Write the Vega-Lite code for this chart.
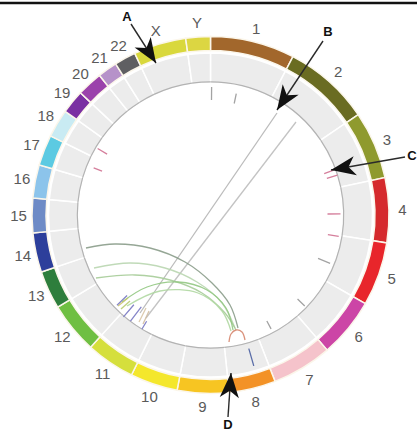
{
  "$schema": "https://vega.github.io/schema/vega-lite/v6.json",
  "width": 413,
  "height": 430,
  "padding": {"left": 4, "top": 0, "right": 0, "bottom": 2},
  "autosize": {"type": "none"},
  "background": "white",
  "config": {"view": {"stroke": null}},
  "datasets": {
    "chroms": [
      {"chr": "1", "start": 0, "end": 27.5, "mid": 13.75},
      {"chr": "2", "start": 27.5, "end": 55.8, "mid": 41.65},
      {"chr": "3", "start": 55.8, "end": 77.9, "mid": 66.85},
      {"chr": "4", "start": 77.9, "end": 99, "mid": 88.45},
      {"chr": "5", "start": 99, "end": 119.8, "mid": 109.4},
      {"chr": "6", "start": 119.8, "end": 139.2, "mid": 129.5},
      {"chr": "7", "start": 139.2, "end": 158.8, "mid": 149},
      {"chr": "8", "start": 158.8, "end": 174, "mid": 166.4},
      {"chr": "9", "start": 174, "end": 190.8, "mid": 182.4},
      {"chr": "10", "start": 190.8, "end": 206.3, "mid": 198.55},
      {"chr": "11", "start": 206.3, "end": 222.2, "mid": 214.25},
      {"chr": "12", "start": 222.2, "end": 238.9, "mid": 230.55},
      {"chr": "13", "start": 238.9, "end": 251.4, "mid": 245.15},
      {"chr": "14", "start": 251.4, "end": 264.2, "mid": 257.8},
      {"chr": "15", "start": 264.2, "end": 275.5, "mid": 269.85},
      {"chr": "16", "start": 275.5, "end": 286.3, "mid": 280.9},
      {"chr": "17", "start": 286.3, "end": 296.3, "mid": 291.3},
      {"chr": "18", "start": 296.3, "end": 305.5, "mid": 300.9},
      {"chr": "19", "start": 305.5, "end": 313.2, "mid": 309.35},
      {"chr": "20", "start": 313.2, "end": 321.5, "mid": 317.35},
      {"chr": "21", "start": 321.5, "end": 327.9, "mid": 324.7},
      {"chr": "22", "start": 327.9, "end": 334.9, "mid": 331.4},
      {"chr": "X", "start": 334.9, "end": 352, "mid": 343.45},
      {"chr": "Y", "start": 352, "end": 360, "mid": 356}
    ],
    "ticks": [
      {"a": 0.5, "r0": 115, "r1": 128, "k": "g"},
      {"a": 12, "r0": 114, "r1": 124, "k": "g"},
      {"a": 70, "r0": 121, "r1": 131, "k": "p"},
      {"a": 72.5, "r0": 122, "r1": 133, "k": "p"},
      {"a": 89.5, "r0": 117, "r1": 130, "k": "p"},
      {"a": 99.5, "r0": 119, "r1": 130, "k": "p"},
      {"a": 112, "r0": 116, "r1": 129, "k": "g"},
      {"a": 134, "r0": 121, "r1": 131, "k": "g"},
      {"a": 152, "r0": 120, "r1": 129, "k": "g"},
      {"a": 164, "r0": 139, "r1": 157, "k": "n"},
      {"a": 211, "r0": 124, "r1": 133, "k": "b"},
      {"a": 217, "r0": 115, "r1": 133, "k": "b"},
      {"a": 220.5, "r0": 118, "r1": 134, "k": "b"},
      {"a": 226, "r0": 116, "r1": 130, "k": "b"},
      {"a": 292, "r0": 117, "r1": 126, "k": "p"},
      {"a": 300.5, "r0": 120, "r1": 131, "k": "p"}
    ],
    "links": [
      {"id": "L1", "i": 0, "x": 66.5, "y": 102},
      {"id": "L1", "i": 1, "x": -70.5, "y": -98},
      {"id": "L2", "i": 0, "x": 85.5, "y": 93},
      {"id": "L2", "i": 1, "x": -64.5, "y": -103},
      {"id": "G1", "i": 0, "x": -124.5, "y": -33},
      {"id": "G1", "i": 1, "x": -95.5, "y": -29},
      {"id": "G1", "i": 2, "x": -60.5, "y": -33},
      {"id": "G1", "i": 3, "x": -25.5, "y": -47},
      {"id": "G1", "i": 4, "x": 1.5, "y": -68},
      {"id": "G1", "i": 5, "x": 19.5, "y": -90},
      {"id": "G1", "i": 6, "x": 27.5, "y": -113},
      {"id": "G2", "i": 0, "x": -116.5, "y": -53},
      {"id": "G2", "i": 1, "x": -80.5, "y": -48},
      {"id": "G2", "i": 2, "x": -45.5, "y": -53},
      {"id": "G2", "i": 3, "x": -13.5, "y": -67},
      {"id": "G2", "i": 4, "x": 11.5, "y": -88},
      {"id": "G2", "i": 5, "x": 24.5, "y": -113},
      {"id": "G3", "i": 0, "x": -114.5, "y": -63},
      {"id": "G3", "i": 1, "x": -75.5, "y": -60},
      {"id": "G3", "i": 2, "x": -40.5, "y": -65},
      {"id": "G3", "i": 3, "x": -8.5, "y": -78},
      {"id": "G3", "i": 4, "x": 14.5, "y": -98},
      {"id": "G3", "i": 5, "x": 25.5, "y": -115},
      {"id": "G4", "i": 0, "x": -88.5, "y": -87},
      {"id": "G4", "i": 1, "x": -63.5, "y": -72},
      {"id": "G4", "i": 2, "x": -32.5, "y": -67},
      {"id": "G4", "i": 3, "x": -3.5, "y": -75},
      {"id": "G4", "i": 4, "x": 15.5, "y": -93},
      {"id": "G4", "i": 5, "x": 22.5, "y": -115},
      {"id": "G5", "i": 0, "x": -83.5, "y": -91},
      {"id": "G5", "i": 1, "x": -50.5, "y": -76},
      {"id": "G5", "i": 2, "x": -12.5, "y": -78},
      {"id": "G5", "i": 3, "x": 11.5, "y": -96},
      {"id": "G5", "i": 4, "x": 20.5, "y": -116},
      {"id": "R1", "i": 0, "x": 18.5, "y": -127},
      {"id": "R1", "i": 1, "x": 20.5, "y": -119},
      {"id": "R1", "i": 2, "x": 25.5, "y": -115},
      {"id": "R1", "i": 3, "x": 31.5, "y": -117},
      {"id": "R1", "i": 4, "x": 34.5, "y": -125},
      {"id": "T1", "i": 0, "x": -92.5, "y": -91},
      {"id": "T1", "i": 1, "x": -82.5, "y": -83},
      {"id": "T2", "i": 0, "x": -89.5, "y": -94},
      {"id": "T2", "i": 1, "x": -80.5, "y": -86},
      {"id": "T3", "i": 0, "x": -71.5, "y": -107},
      {"id": "T3", "i": 1, "x": -64.5, "y": -93},
      {"id": "T4", "i": 0, "x": -67.5, "y": -109},
      {"id": "T4", "i": 1, "x": -61.5, "y": -96}
    ],
    "arrows": [
      {"id": "A", "lx": -83.5, "ly": 198, "sx": -79.5, "sy": 191, "tx": -54.5, "ty": 152, "ang": 147.3},
      {"id": "B", "lx": 117.5, "ly": 183, "sx": 112.5, "sy": 174, "tx": 66.5, "ty": 105, "ang": 213.7},
      {"id": "C", "lx": 201.5, "ly": 59, "sx": 194.5, "sy": 58, "tx": 120.5, "ty": 45, "ang": 260},
      {"id": "D", "lx": 17.5, "ly": -210, "sx": 17.5, "sy": -202, "tx": 20.5, "ty": -158, "ang": 3.9}
    ]
  },
  "layer": [
    {
      "data": {"name": "chroms"},
      "mark": {"type": "arc", "radius": 162, "radius2": 132, "fill": "#ececec", "stroke": "#ffffff", "strokeWidth": 1.5},
      "encoding": {
        "theta": {"field": "start", "type": "quantitative", "stack": null, "scale": {"domain": [0, 360], "range": [0, 6.283185307]}},
        "theta2": {"field": "end"}
      }
    },
    {
      "data": {"name": "chroms"},
      "mark": {"type": "arc", "radius": 133.8, "radius2": 132.6, "fill": "#b3b3b3"},
      "encoding": {
        "theta": {"field": "start", "type": "quantitative", "stack": null, "scale": {"domain": [0, 360], "range": [0, 6.283185307]}},
        "theta2": {"field": "end"}
      }
    },
    {
      "data": {"name": "chroms"},
      "mark": {"type": "arc", "radius": 178.5, "radius2": 164.5, "stroke": "#fbf6ea", "strokeWidth": 1.5},
      "encoding": {
        "theta": {"field": "start", "type": "quantitative", "stack": null, "scale": {"domain": [0, 360], "range": [0, 6.283185307]}},
        "theta2": {"field": "end"},
        "color": {
          "field": "chr", "type": "nominal", "legend": null,
          "scale": {
            "domain": ["1","2","3","4","5","6","7","8","9","10","11","12","13","14","15","16","17","18","19","20","21","22","X","Y"],
            "range": ["#a2672c","#6a6c22","#8f9a2e","#d52a2c","#e8262b","#cc45a6","#f5c3cb","#f39226","#f7c522","#f4e72c","#d5df3c","#6fbf42","#2e7e3c","#2d3f9b","#6e8bc6","#8cc4eb","#5ccae2","#c9ebf3","#7a30a2","#9b42ab","#b692c9","#5f5f62","#d9d83c","#dcd642"]
          }
        }
      }
    },
    {
      "data": {"name": "ticks"},
      "mark": {"type": "arc", "filled": false, "strokeWidth": 1.3},
      "encoding": {
        "theta": {"field": "a", "type": "quantitative", "stack": null, "scale": {"domain": [0, 360], "range": [0, 6.283185307]}},
        "theta2": {"field": "a"},
        "radius": {"field": "r0", "type": "quantitative", "scale": {"type": "linear", "domain": [0, 200], "range": [0, 200], "zero": true, "nice": false}},
        "radius2": {"field": "r1"},
        "color": {"field": "k", "type": "nominal", "legend": null, "scale": {"domain": ["g","p","b","n"], "range": ["#a3a3a3","#d57f9c","#8585c8","#5b6ea8"]}}
      }
    },
    {
      "data": {"name": "links"},
      "mark": {"type": "line", "interpolate": "catmull-rom", "strokeWidth": 1.3, "opacity": 0.9},
      "encoding": {
        "x": {"field": "x", "type": "quantitative", "axis": null, "scale": {"domain": [-206.5, 206.5], "nice": false, "zero": false}},
        "y": {"field": "y", "type": "quantitative", "axis": null, "scale": {"domain": [-215, 215], "nice": false, "zero": false}},
        "detail": {"field": "id"},
        "order": {"field": "i", "type": "quantitative"},
        "color": {"field": "id", "type": "nominal", "legend": null, "scale": {
          "domain": ["L1","L2","G1","G2","G3","G4","G5","R1","T1","T2","T3","T4"],
          "range": ["#b4b4b4","#bdbdbd","#8a9c8a","#b9d6b0","#a6cc98","#92c882","#b0d8a2","#d6866e","#c9c46a","#b8cc70","#d8c4a4","#d0bca0"]
        }}
      }
    },
    {
      "data": {"name": "arrows"},
      "mark": {"type": "rule", "color": "#2a2a2a", "strokeWidth": 1.4},
      "encoding": {
        "x": {"field": "sx", "type": "quantitative", "axis": null, "scale": {"domain": [-206.5, 206.5], "nice": false, "zero": false}},
        "y": {"field": "sy", "type": "quantitative", "axis": null, "scale": {"domain": [-215, 215], "nice": false, "zero": false}},
        "x2": {"field": "tx"},
        "y2": {"field": "ty"}
      }
    },
    {
      "data": {"name": "arrows"},
      "mark": {"type": "point", "shape": "M0,0L-0.7,1.8L0,1.3L0.7,1.8Z", "filled": true, "color": "#111111", "opacity": 1},
      "encoding": {
        "x": {"field": "tx", "type": "quantitative", "axis": null, "scale": {"domain": [-206.5, 206.5], "nice": false, "zero": false}},
        "y": {"field": "ty", "type": "quantitative", "axis": null, "scale": {"domain": [-215, 215], "nice": false, "zero": false}},
        "angle": {"field": "ang", "type": "quantitative", "scale": null},
        "size": {"datum": 750, "scale": null}
      }
    },
    {
      "data": {"name": "arrows"},
      "mark": {"type": "text", "font": "Liberation Sans", "fontSize": 13, "fontWeight": "bold", "color": "#111111", "align": "center", "baseline": "middle"},
      "encoding": {
        "x": {"field": "lx", "type": "quantitative", "axis": null, "scale": {"domain": [-206.5, 206.5], "nice": false, "zero": false}},
        "y": {"field": "ly", "type": "quantitative", "axis": null, "scale": {"domain": [-215, 215], "nice": false, "zero": false}},
        "text": {"field": "id"}
      }
    },
    {
      "data": {"name": "chroms"},
      "mark": {"type": "text", "radius": 192, "font": "Liberation Sans", "fontSize": 15, "color": "#5a5a5a", "align": "center", "baseline": "middle"},
      "encoding": {
        "theta": {"field": "mid", "type": "quantitative", "stack": null, "scale": {"domain": [0, 360], "range": [0, 6.283185307]}},
        "text": {"field": "chr"}
      }
    },
    {
      "data": {"values": [{}]},
      "mark": {"type": "rule", "color": "#111111", "strokeWidth": 2.5},
      "encoding": {
        "y": {"datum": 212, "type": "quantitative", "axis": null, "scale": {"domain": [-215, 215], "nice": false, "zero": false}},
        "x": {"datum": -220, "type": "quantitative", "axis": null, "scale": {"domain": [-206.5, 206.5], "nice": false, "zero": false}},
        "x2": {"datum": 220}
      }
    }
  ],
  "resolve": {"scale": {"color": "independent"}}
}
